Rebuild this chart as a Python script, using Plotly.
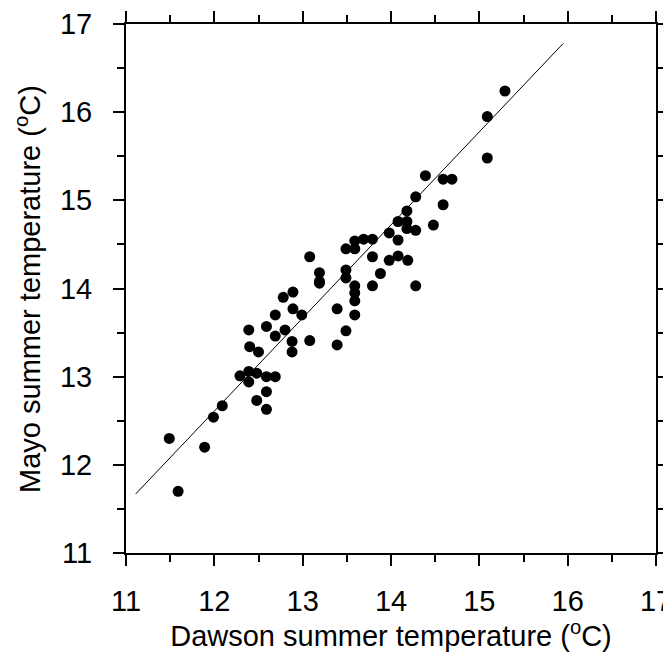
import plotly.graph_objects as go

dawson = [11.49, 11.59, 11.89, 11.99, 12.09, 12.48, 12.59, 12.59,
          12.29, 12.39, 12.39, 12.48, 12.59, 12.69,
          12.40, 12.50, 12.88, 12.88, 13.08, 13.39,
          12.39, 12.69, 12.59, 12.69, 12.80, 12.89, 12.99, 12.78, 12.89, 13.19,
          15.09, 14.39, 14.59, 14.69, 14.28, 14.59, 14.18, 14.08, 14.18, 14.18,
          14.28, 14.48, 13.98, 14.08, 13.59, 13.69, 13.79, 13.59, 13.49, 13.08,
          13.79, 13.98, 14.08, 14.19, 13.19, 13.19, 13.49, 13.49, 13.88, 13.59,
          13.59, 13.59, 13.79, 14.28, 13.39, 13.59, 13.49, 15.29, 15.09]
mayo = [12.30, 11.70, 12.20, 12.54, 12.67, 12.73, 12.63, 12.83,
        13.01, 13.06, 12.94, 13.04, 13.00, 13.00,
        13.34, 13.28, 13.28, 13.40, 13.41, 13.36,
        13.53, 13.46, 13.57, 13.70, 13.53, 13.77, 13.70, 13.90, 13.96, 14.06,
        15.48, 15.28, 15.24, 15.24, 15.04, 14.95, 14.88, 14.76, 14.76, 14.68,
        14.66, 14.72, 14.63, 14.55, 14.54, 14.56, 14.56, 14.45, 14.45, 14.36,
        14.36, 14.32, 14.37, 14.32, 14.18, 14.08, 14.21, 14.12, 14.17, 14.03,
        13.95, 13.86, 14.03, 14.03, 13.77, 13.70, 13.52, 16.24, 15.95]

fit_x = [11.11, 15.95]
fit_y = [11.67, 16.78]

tick_vals = [11, 12, 13, 14, 15, 16, 17]
tick_text = ["11", "12", "13", "14", "15", "16", "17"]

x_title = "Dawson summer temperature (<sup>o</sup>C)"
y_title = "Mayo summer temperature (<sup>o</sup>C)"

FONT = "Liberation Sans, Arial, sans-serif"
TICK_SIZE = 29
TITLE_SIZE = 29

fig = go.Figure()
fig.add_trace(go.Scatter(x=fit_x, y=fit_y, mode="lines",
                         line=dict(color="black", width=1), showlegend=False,
                         hoverinfo="skip", cliponaxis=False))
fig.add_trace(go.Scatter(x=dawson, y=mayo, mode="markers",
                         marker=dict(color="black", size=11, line=dict(width=0)),
                         showlegend=False))

axis_common = dict(
    range=[11, 17], tickvals=tick_vals, ticktext=tick_text,
    showgrid=False, zeroline=False, showline=True, linecolor="black",
    linewidth=2, mirror="ticks", ticks="outside", ticklen=11, tickwidth=2,
    tickcolor="black", automargin=False, ticklabeloverflow="allow",
    minor=dict(dtick=0.5, tick0=11, ticks="outside", ticklen=7, tickwidth=2,
               tickcolor="black", showgrid=False),
    tickfont=dict(family=FONT, size=TICK_SIZE, color="black"),
)

fig.update_xaxes(**axis_common, ticklabelstandoff=10,
                 title=dict(text=x_title,
                            font=dict(family=FONT, size=TITLE_SIZE, color="black"),
                            standoff=12))
fig.update_yaxes(**axis_common, ticklabelstandoff=15)

# y-axis title as a rotated annotation so it can sit close to the page edge
fig.add_annotation(text=y_title, textangle=-90, showarrow=False,
                   xref="paper", yref="paper", x=-0.186, y=0.5,
                   xanchor="center", yanchor="middle",
                   font=dict(family=FONT, size=TITLE_SIZE, color="black"))

# page body has an 8px margin; size the figure so the plot box lands at
# x 126..656, y 24..553 in the 671x652 window
fig.update_layout(
    width=663, height=644,
    margin=dict(l=118, r=15, t=16, b=99),
    plot_bgcolor="white", paper_bgcolor="white",
    font=dict(family=FONT, color="black"),
)

fig.write_html("out.html")
